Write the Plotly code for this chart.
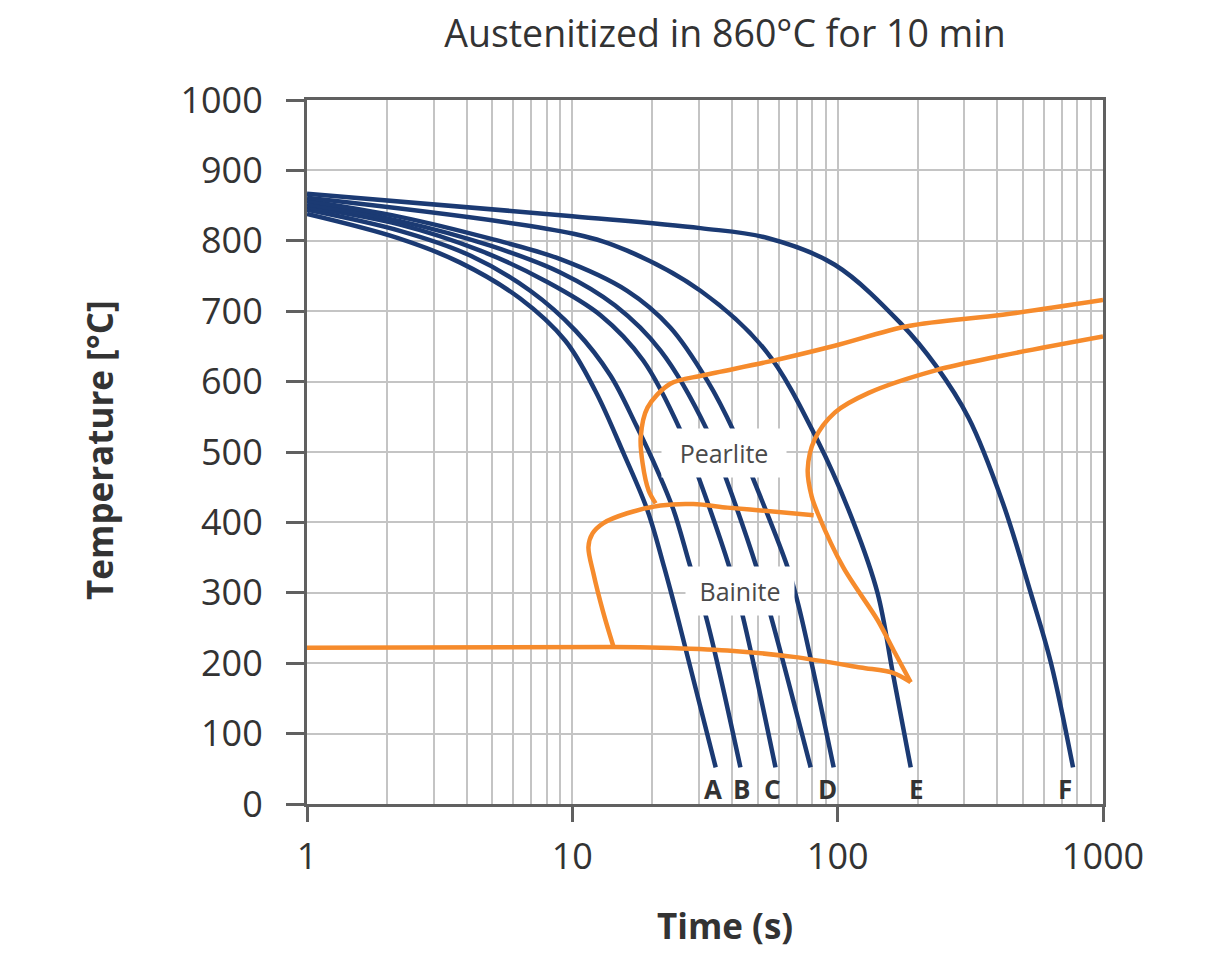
import math
import plotly.graph_objects as go

# cooling curves, time in s / temperature in degC
a_time = [1.0, 2.19, 3.78, 6.36, 9.41, 12.2, 15.6, 19.2, 22.2, 25.1, 34.7]
a_temp = [838, 804, 769, 718, 658, 587, 498, 417, 336, 261, 52]

b_time = [1.0, 2.24, 4.12, 6.94, 10.3, 13.9, 17.4, 20.9, 24.1, 27.9, 31.8, 43.0]
b_temp = [844, 814, 779, 729, 672, 609, 538, 474, 417, 336, 268, 52]

c_time = [1.0, 2.24, 4.50, 7.91, 12.8, 18.5, 25.6, 29.9, 39.1, 43.8, 58.3]
c_temp = [848, 823, 786, 743, 694, 630, 530, 464, 336, 268, 52]

x_time = [1.0, 2.24, 4.91, 9.01, 14.5, 21.5, 32.3, 37.8, 49.5, 55.9, 79.1]
x_temp = [852, 828, 793, 755, 708, 644, 530, 464, 336, 268, 52]

d_time = [1.0, 2.24, 4.91, 9.01, 16.1, 23.4, 32.3, 40.5, 47.8, 64.8, 71.2, 96.6]
d_temp = [857, 834, 803, 774, 729, 677, 601, 530, 464, 336, 282, 52]

e_time = [1.0, 10.1, 16.1, 30.4, 53.5, 84.1, 115, 141.5, 161.4, 188.5]
e_temp = [861, 810, 786, 729, 644, 516, 399, 299, 186, 52]

f_time = [1.0, 10.0, 30.4, 54.4, 97.5, 174.6, 234, 312, 419, 535, 637, 771]
f_temp = [867, 835, 818, 804, 766, 681, 623, 548, 428, 299, 200, 52]

# transformation lines
pearlite_start_time = [20.6, 19.4, 18.4, 18.1, 19.2, 23.4, 31.2, 54.4, 97.5, 185, 419, 1000]
pearlite_start_temp = [427, 445, 484, 521, 563, 597, 609, 628, 651, 679, 695, 716]

pearlite_end_time = [1000, 419, 234, 131, 97.5, 81.9, 77.1, 79.8, 84.1, 105, 141.5, 162.6, 188.5]
pearlite_end_temp = [664, 637, 616, 584, 556, 518, 475, 437, 413, 336, 261, 218, 173]

ms_time = [188.5, 162.6, 122, 68.2, 38.4, 21.5, 14.3, 1.0]
ms_temp = [173, 186, 194, 209, 218, 222, 223, 222]

bainite_start_time = [14.3, 13.1, 12.0, 11.5, 11.9, 13.1, 16.1, 21.5, 28.6, 38.4, 51.2, 81.2]
bainite_start_temp = [223, 271, 328, 365, 384, 399, 413, 424, 426, 421, 417, 410]

curve_names = ["A", "B", "C", "D", "E", "F"]
curve_label_time = [34.0, 43.5, 56.9, 91.6, 198.6, 719]
curve_label_temp = 22

blue = "#1b3a73"
orange = "#f68b2c"
grid = "#c4c4c4"
axis_col = "#606060"
text_col = "#333333"

fig = go.Figure()

for t, T in [(a_time, a_temp), (b_time, b_temp), (c_time, c_temp), (x_time, x_temp),
             (d_time, d_temp), (e_time, e_temp), (f_time, f_temp)]:
    fig.add_trace(go.Scatter(x=t, y=T, mode="lines",
                             line=dict(color=blue, width=4.5, shape="spline", smoothing=1.0)))

for t, T in [(pearlite_start_time, pearlite_start_temp), (pearlite_end_time, pearlite_end_temp),
             (ms_time, ms_temp), (bainite_start_time, bainite_start_temp)]:
    fig.add_trace(go.Scatter(x=t, y=T, mode="lines",
                             line=dict(color=orange, width=4.5, shape="spline", smoothing=0.9)))

# region labels, white boxes hide the lines behind them
fig.add_annotation(x=math.log10(37.2), y=498, text="\u00a0\u2009Pearlite\u2009\u00a0",
                   showarrow=False, bgcolor="white", borderpad=7,
                   font=dict(size=25, color="#4a4a4a"))
fig.add_annotation(x=math.log10(43.0), y=303, text="\u00a0Bainite\u00a0",
                   showarrow=False, bgcolor="white", borderpad=7,
                   font=dict(size=25, color="#4a4a4a"))

# curve letters sit over the grid without a box
for name, t in zip(curve_names, curve_label_time):
    fig.add_annotation(x=math.log10(t), y=curve_label_temp, text="<b>" + name + "</b>",
                       showarrow=False, font=dict(size=26, color="#333333"))

# axis titles
fig.add_annotation(x=0.525, y=-0.172, xref="paper", yref="paper", text="<b>Time (s)</b>",
                   xanchor="center", yanchor="middle",
                   showarrow=False, font=dict(size=35, color=text_col))
fig.add_annotation(x=-0.26, y=0.503, xref="paper", yref="paper", text="<b>Temperature [°C]</b>",
                   xanchor="center", yanchor="middle",
                   showarrow=False, textangle=-90, font=dict(size=35, color=text_col))

fig.update_layout(
    width=1214, height=955,
    margin=dict(l=299, r=119, t=92, b=159),
    plot_bgcolor="white", paper_bgcolor="white",
    showlegend=False,
    font=dict(family="Open Sans", color=text_col),
    title=dict(text="Austenitized in 860°C for 10 min", x=0.5906, xanchor="center",
               y=0.973, yanchor="middle", font=dict(size=37.5, color=text_col)),
    xaxis=dict(
        type="log", range=[0, 3],
        tickmode="array", tickvals=[1, 10, 100, 1000], ticktext=["1", "10", "100", "1000"],
        showgrid=True, gridcolor=grid, gridwidth=2,
        minor=dict(dtick="D1", showgrid=True, gridcolor=grid, gridwidth=2),
        showline=True, linecolor=axis_col, linewidth=3, mirror=True,
        ticks="outside", ticklen=15, tickwidth=3, tickcolor=axis_col,
        tickfont=dict(size=36, color=text_col), ticklabelstandoff=4,
        zeroline=False,
    ),
    yaxis=dict(
        range=[0, 1000], tickmode="linear", tick0=0, dtick=100,
        showgrid=True, gridcolor=grid, gridwidth=2,
        showline=True, linecolor=axis_col, linewidth=3, mirror=True,
        ticks="outside", ticklen=18, tickwidth=3, tickcolor=axis_col,
        tickfont=dict(size=36, color=text_col), ticklabelstandoff=16,
        zeroline=False,
    ),
)

fig.write_html("out.html")
